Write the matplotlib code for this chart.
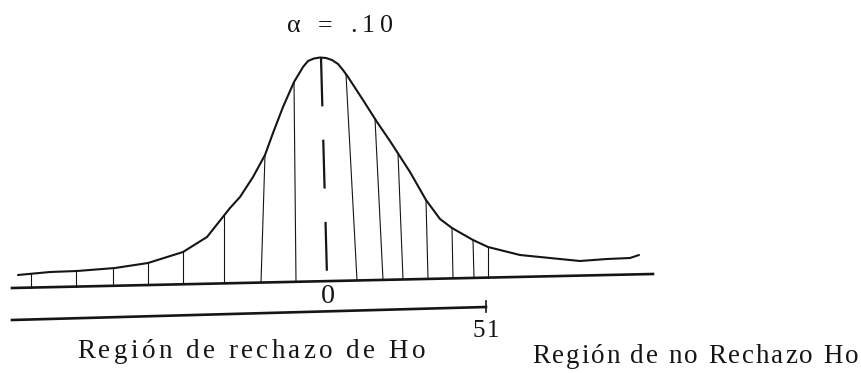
import numpy as np
import matplotlib.pyplot as plt
from matplotlib.font_manager import FontProperties, findfont
from matplotlib.ft2font import FT2Font

plt.switch_backend("Agg")

DPI = 100
W, H = 862, 373
INK = "#151515"
FAMILY = "Liberation Serif"

# --- hand-drawn bell curve (pixel units, y down) ---
curve_x = [18, 50, 77, 115, 148, 183, 207, 230, 240, 253, 265, 273, 283, 294,
           303, 308, 314, 320, 326, 332, 338, 343, 348, 363, 377, 390, 410, 426,
           440, 452, 473, 488, 520, 550, 580, 607, 630, 639]
curve_y = [275, 272, 271, 268, 263, 252, 237, 208, 197, 177, 155, 133, 107, 82,
           67, 61, 58.5, 57.5, 58, 60, 64, 70, 77, 100, 122, 141, 172, 200,
           219, 228, 240, 247, 255, 258, 261, 259, 258, 255]

# baseline (slightly tilted in the scan) and the lower region bar
axis_x = [12, 653]
axis_y = [288, 274]
bar_x = [12, 486]
bar_y = [320, 307]

# vertical hatch strokes: where they touch the curve / where they meet the axis
hatch_top_x = [31, 76, 113, 148, 183, 224, 265, 294, 346, 375, 398, 426, 452, 473, 488]
hatch_base_x = [31, 76, 113, 148, 183, 224, 261, 296, 357, 383, 403, 428, 453, 474, 488]

center_x = [321, 327]

alpha_label = "α = .10"
zero_label = "0"
crit_label = "51"
reject_label = "Región de rechazo de Ho"
accept_label = "Región de no Rechazo Ho"


def tracked_text(ax, s, x0, x1, y, size_px):
    """Lay out s letter by letter so it runs from x0 to x1 (typewriter spacing)."""
    pt = size_px * 72 / DPI
    prop = FontProperties(family=FAMILY, size=pt)
    font = FT2Font(findfont(prop))
    font.set_size(pt, DPI)
    adv = [font.load_char(ord(c)).linearHoriAdvance / 65536 for c in s]
    track = max((x1 - x0 - sum(adv)) / max(len(s) - 1, 1), 0)
    x = x0
    for c, a in zip(s, adv):
        if c != " ":
            ax.text(x, y, c, fontproperties=prop, color=INK, ha="left", va="baseline")
        x += a + track


fig = plt.figure(figsize=(W / DPI, H / DPI), dpi=DPI)
ax = fig.add_axes([0, 0, 1, 1])
ax.set_xlim(0, W)
ax.set_ylim(H, 0)
ax.axis("off")

ax.plot(curve_x, curve_y, color=INK, lw=1.5, solid_capstyle="round",
        solid_joinstyle="round")
ax.plot(axis_x, axis_y, color=INK, lw=1.9)
ax.plot(bar_x, bar_y, color=INK, lw=1.9)
ax.plot([bar_x[1], bar_x[1]], [bar_y[1] - 6, bar_y[1] + 5], color=INK, lw=1.2)

tops = np.interp(hatch_top_x, curve_x, curve_y)
bases = np.interp(hatch_base_x, axis_x, axis_y)
for xt, yt, xb, yb in zip(hatch_top_x, tops, hatch_base_x, bases):
    ax.plot([xt, xb], [yt, yb], color=INK, lw=0.8)

c_base = np.interp(center_x[1], axis_x, axis_y)
ax.plot(center_x, [min(curve_y), c_base - 5], color=INK, lw=1.6, dashes=(22, 15))

tracked_text(ax, alpha_label, 287, 393, 32, 26)
tracked_text(ax, zero_label, 321, 336, 303, 28)
tracked_text(ax, crit_label, 473, 499, 337, 25)
tracked_text(ax, reject_label, 77, 425, 358, 27)
tracked_text(ax, accept_label, 532, 858, 363, 27)

fig.savefig("out.png", dpi=DPI, facecolor="white")
